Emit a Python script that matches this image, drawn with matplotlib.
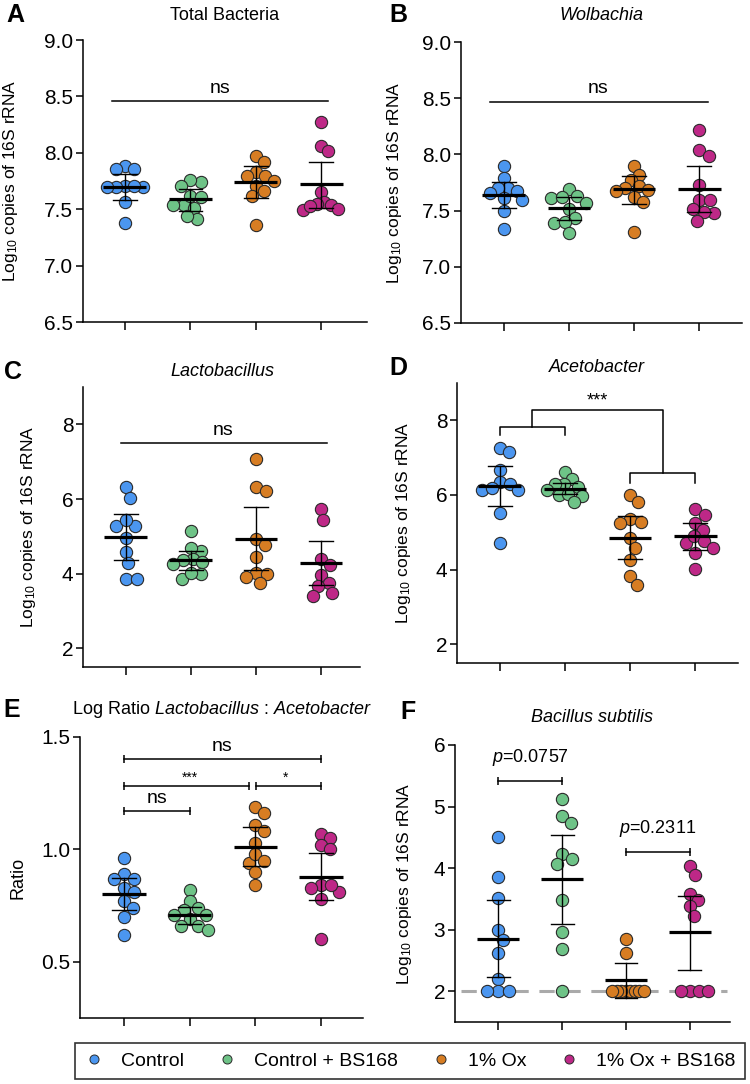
import numpy as np
import matplotlib
matplotlib.use("Agg")
import matplotlib.pyplot as plt
from matplotlib.lines import Line2D

plt.rcParams['font.family'] = ['Liberation Sans', 'DejaVu Sans']
plt.rcParams['mathtext.fontset'] = 'custom'
plt.rcParams['mathtext.rm'] = 'Liberation Sans'
plt.rcParams['mathtext.it'] = 'Liberation Sans:italic'

# groups / colours
groups = ['Control', 'Control + BS168', '1% Ox', '1% Ox + BS168']
colors = ['#4B96F0', '#6EC387', '#D77D23', '#BE2887']

# A - Total Bacteria
A_ctrl = [7.88, 7.86, 7.86, 7.71, 7.70, 7.70, 7.71, 7.70, 7.56, 7.38]
A_bs = [7.74, 7.76, 7.71, 7.54, 7.54, 7.62, 7.61, 7.51, 7.41, 7.44]
A_ox = [7.97, 7.92, 7.83, 7.79, 7.79, 7.71, 7.66, 7.36, 7.75, 7.62]
A_oxbs = [8.27, 8.06, 8.02, 7.65, 7.56, 7.54, 7.50, 7.55, 7.49, 7.53]
A_mean = [7.70, 7.59, 7.74, 7.72]
A_lo = [7.585, 7.485, 7.595, 7.51]
A_hi = [7.81, 7.68, 7.88, 7.92]

# B - Wolbachia
B_ctrl = [7.90, 7.79, 7.70, 7.70, 7.67, 7.61, 7.59, 7.66, 7.50, 7.34]
B_bs = [7.69, 7.63, 7.61, 7.62, 7.51, 7.57, 7.43, 7.39, 7.40, 7.30]
B_ox = [7.90, 7.82, 7.77, 7.72, 7.68, 7.70, 7.62, 7.58, 7.67, 7.31]
B_oxbs = [8.22, 8.04, 7.99, 7.73, 7.59, 7.59, 7.51, 7.48, 7.49, 7.41]
B_mean = [7.64, 7.52, 7.69, 7.69]
B_lo = [7.52, 7.42, 7.56, 7.49]
B_hi = [7.75, 7.62, 7.81, 7.90]

# C - Lactobacillus
C_ctrl = [6.31, 6.04, 5.29, 5.29, 5.44, 4.96, 4.58, 4.29, 3.87, 3.87]
C_bs = [5.14, 4.60, 4.69, 4.40, 4.36, 4.25, 4.30, 3.87, 4.00, 4.02]
C_ox = [7.08, 6.31, 6.22, 4.93, 4.76, 4.44, 4.02, 4.00, 3.91, 3.75]
C_oxbs = [5.73, 5.44, 4.40, 4.22, 3.96, 3.75, 3.66, 3.40, 3.47]
C_mean = [4.98, 4.36, 4.93, 4.29]
C_lo = [4.37, 4.09, 4.09, 3.69]
C_hi = [5.60, 4.62, 5.78, 4.87]

# D - Acetobacter
D_ctrl = [7.27, 7.16, 6.67, 6.36, 6.29, 6.13, 6.13, 6.20, 5.51, 4.71]
D_bs = [6.62, 6.42, 6.22, 6.29, 6.29, 6.13, 6.00, 6.04, 5.96, 5.82]
D_ox = [6.00, 5.80, 5.35, 5.24, 5.29, 4.84, 4.58, 4.27, 3.82, 3.60]
D_oxbs = [5.62, 5.47, 5.26, 5.07, 4.71, 4.90, 4.76, 4.58, 4.44, 4.02]
D_mean = [6.24, 6.15, 4.86, 4.89]
D_lo = [5.71, 6.02, 4.28, 4.53]
D_hi = [6.77, 6.31, 5.44, 5.26]

# E - log ratio
E_ctrl = [0.96, 0.89, 0.87, 0.87, 0.83, 0.81, 0.77, 0.74, 0.70, 0.62]
E_bs = [0.82, 0.77, 0.74, 0.73, 0.71, 0.71, 0.69, 0.66, 0.66, 0.64]
E_ox = [1.19, 1.16, 1.11, 1.08, 1.03, 0.94, 0.98, 0.90, 0.95, 0.84]
E_oxbs = [1.07, 1.05, 1.02, 1.00, 0.84, 0.83, 0.81, 0.78, 0.60, 0.84]
E_mean = [0.80, 0.707, 1.011, 0.878]
E_lo = [0.73, 0.667, 0.925, 0.774]
E_hi = [0.873, 0.744, 1.10, 0.984]

# F - Bacillus subtilis
F_ctrl = [4.50, 3.85, 3.51, 2.99, 2.83, 2.62, 2.20, 2.0, 2.0, 2.0]
F_bs = [5.12, 4.84, 4.73, 4.23, 4.07, 4.15, 3.49, 2.97, 2.68, 2.0]
F_ox = [2.85, 2.62, 2.0, 2.0, 2.0, 2.0, 2.0, 2.0, 2.0, 2.0]
F_oxbs = [4.03, 3.89, 3.58, 3.49, 3.39, 3.23, 2.0, 2.0, 2.0, 2.0]
F_mean = [2.85, 3.82, 2.19, 2.96]
F_lo = [2.23, 3.09, 1.89, 2.34]
F_hi = [3.48, 4.54, 2.46, 3.55]
F_detect = 2.0

W, H = 750, 1084
fig = plt.figure(figsize=(W / 100, H / 100), dpi=100)


def box(l, t, r, b):
    return [l / W, 1 - b / H, (r - l) / W, (b - t) / H]


def swarm_x(ax, xc, ys, diam=11.0, maxw=18):
    # simple beeswarm in pixel space
    ys = np.asarray(ys, float)
    pts = ax.transData.transform(np.column_stack([np.full(len(ys), xc), ys]))
    ypx = pts[:, 1]
    offs = np.zeros(len(ys))
    placed = []
    for i in np.argsort(-ys, kind='stable'):
        cands = [0.0]
        for xo, yp in placed:
            dy = ypx[i] - yp
            if abs(dy) < diam:
                dx = np.sqrt(diam ** 2 - dy ** 2)
                cands += [xo + dx, xo - dx]
        cands.sort(key=abs)
        best = cands[-1]
        for c in cands:
            if all((c - xo) ** 2 + (ypx[i] - yp) ** 2 >= diam ** 2 - 1e-6 for xo, yp in placed):
                best = c
                break
        offs[i] = best
        placed.append((best, ypx[i]))
    m = np.abs(offs).max()
    if m > maxw:
        offs *= maxw / m
    inv = ax.transData.inverted()
    return inv.transform(np.column_stack([pts[:, 0] + offs, ypx]))[:, 0]


def panel(rect, series, means, lo, hi, ylim, yticks, fmt, xlim):
    ax = fig.add_axes(box(*rect))
    ax.set_xlim(*xlim)
    ax.set_ylim(*ylim)
    for s in ['top', 'right']:
        ax.spines[s].set_visible(False)
    for s in ['left', 'bottom']:
        ax.spines[s].set_linewidth(1.1)
    ax.set_xticks(range(4))
    ax.set_xticklabels([])
    ax.set_yticks(yticks)
    ax.set_yticklabels([fmt % v for v in yticks])
    ax.tick_params(axis='y', length=5, width=1.1, labelsize=15, pad=2)
    ax.tick_params(axis='x', length=6, width=1.1)
    for i, ys in enumerate(series):
        xs = swarm_x(ax, i, ys)
        ax.scatter(xs, ys, s=78, color=colors[i], edgecolor='#2a2a2a',
                   linewidth=0.8, zorder=3, clip_on=False)
        ax.plot([i, i], [lo[i], hi[i]], color='black', lw=1.0, zorder=4)
        ax.plot([i - 0.18, i + 0.18], [lo[i], lo[i]], color='black', lw=1.0, zorder=4)
        ax.plot([i - 0.18, i + 0.18], [hi[i], hi[i]], color='black', lw=1.0, zorder=4)
        ax.plot([i - 0.33, i + 0.33], [means[i], means[i]], color='black', lw=2.3,
                zorder=5, solid_capstyle='butt')
    return ax


def sig(ax, x, y, txt, size=14, dy=6):
    ax.annotate(txt, (x, y), xytext=(0, dy), textcoords='offset points',
                ha='center', va='baseline', fontsize=size)


def capline(ax, x0, x1, y):
    ax.plot([x0, x1], [y, y], color='black', lw=1.1)
    ax.plot([x0, x1], [y, y], ls='none', marker='|', ms=6, mew=1.1, color='black')


ylab = r"Log$_{10}$ copies of 16S rRNA"

# A
axA = panel((83, 40, 367, 322), [A_ctrl, A_bs, A_ox, A_oxbs], A_mean, A_lo, A_hi,
            (6.5, 9.0), [6.5, 7.0, 7.5, 8.0, 8.5, 9.0], '%.1f', (-0.64, 3.7))
axA.plot([-0.2, 3.11], [8.46, 8.46], color='black', lw=1.1)
sig(axA, 1.45, 8.46, 'ns')

# B
axB = panel((461, 42, 742, 323), [B_ctrl, B_bs, B_ox, B_oxbs], B_mean, B_lo, B_hi,
            (6.5, 9.0), [6.5, 7.0, 7.5, 8.0, 8.5, 9.0], '%.1f', (-0.66, 3.66))
axB.plot([-0.22, 3.13], [8.47, 8.47], color='black', lw=1.1)
sig(axB, 1.45, 8.47, 'ns')

# C
axC = panel((83, 387, 360, 667), [C_ctrl, C_bs, C_ox, C_oxbs], C_mean, C_lo, C_hi,
            (1.5, 9.0), [2, 4, 6, 8], '%d', (-0.66, 3.6))
axC.plot([-0.07, 3.09], [7.49, 7.49], color='black', lw=1.1)
sig(axC, 1.5, 7.49, 'ns')

# D
axD = panel((457, 383, 738, 663), [D_ctrl, D_bs, D_ox, D_oxbs], D_mean, D_lo, D_hi,
            (1.5, 9.0), [2, 4, 6, 8], '%d', (-0.66, 3.66))
axD.plot([0, 0, 1, 1], [7.6, 7.82, 7.82, 7.6], color='black', lw=1.1)
axD.plot([0.5, 0.5, 2.5, 2.5], [7.82, 8.28, 8.28, 6.58], color='black', lw=1.1)
axD.plot([2, 2, 3, 3], [6.31, 6.58, 6.58, 6.31], color='black', lw=1.1)
sig(axD, 1.5, 8.28, '***', size=13, dy=3)

# E
axE = panel((80, 737, 363, 1018), [E_ctrl, E_bs, E_ox, E_oxbs], E_mean, E_lo, E_hi,
            (0.25, 1.5), [0.5, 1.0, 1.5], '%.1f', (-0.67, 3.64))
capline(axE, 0, 3, 1.40)
sig(axE, 1.5, 1.40, 'ns')
capline(axE, 0, 1.9, 1.282)
sig(axE, 1.0, 1.282, '***', size=10, dy=3)
capline(axE, 2.015, 3, 1.282)
sig(axE, 2.46, 1.282, '*', size=10, dy=3)
capline(axE, 0, 1, 1.17)
sig(axE, 0.5, 1.17, 'ns')

# F
axF = panel((455, 745, 730, 1022), [F_ctrl, F_bs, F_ox, F_oxbs], F_mean, F_lo, F_hi,
            (1.5, 6.0), [2, 3, 4, 5, 6], '%d', (-0.68, 3.63))
axF.axhline(F_detect, xmin=0.02, xmax=0.99, color='#AAAAAA', lw=2.2,
            dashes=(5, 3.5), zorder=2)
capline(axF, 0, 1, 5.41)
sig(axF, 0.5, 5.41, r'$p$=0.0757', size=13, dy=14)
capline(axF, 2, 3, 4.26)
sig(axF, 2.5, 4.26, r'$p$=0.2311', size=13, dy=14)

# y labels (centre positions)
for ax, xf in [(axA, -0.254), (axB, -0.238), (axC, -0.195), (axD, -0.189), (axF, -0.185)]:
    ax.set_ylabel(ylab, fontsize=12.5, va='center')
    ax.yaxis.set_label_coords(xf, 0.5)
axE.set_ylabel('Ratio', fontsize=13, va='center')
axE.yaxis.set_label_coords(-0.219, 0.5)


def ftext(x, y, s, **kw):
    fig.text(x / W, 1 - y / H, s, ha='center', va='center', **kw)


# titles
ftext(225, 15, 'Total Bacteria', fontsize=13)
ftext(601, 15, 'Wolbachia', fontsize=13, style='italic')
ftext(222, 371, 'Lactobacillus', fontsize=13, style='italic')
ftext(597, 367, 'Acetobacter', fontsize=13, style='italic')
ftext(222, 709, r'Log Ratio $Lactobacillus$ : $Acetobacter$', fontsize=13)
ftext(592, 718, 'Bacillus subtilis', fontsize=13, style='italic')

# panel letters
for x, y, s in [(15, 15, 'A'), (398, 15, 'B'), (13, 372, 'C'), (398, 368, 'D'),
                (12, 710, 'E'), (408, 712, 'F')]:
    ftext(x, y, s, fontsize=18, fontweight='bold')

# legend
handles = [Line2D([], [], ls='none', marker='o', ms=6.5, mfc=c, mec='#2a2a2a', mew=0.7)
           for c in colors]
leg = fig.legend(handles, groups, loc='center', ncol=4, fontsize=14,
                 bbox_to_anchor=(410 / W, 1 - 1061 / H), frameon=True, fancybox=False,
                 handlelength=1.0, handletextpad=0.9, columnspacing=1.7,
                 borderpad=0.45, edgecolor='black')
leg.get_frame().set_linewidth(1.2)

fig.savefig('out.png', dpi=100)
